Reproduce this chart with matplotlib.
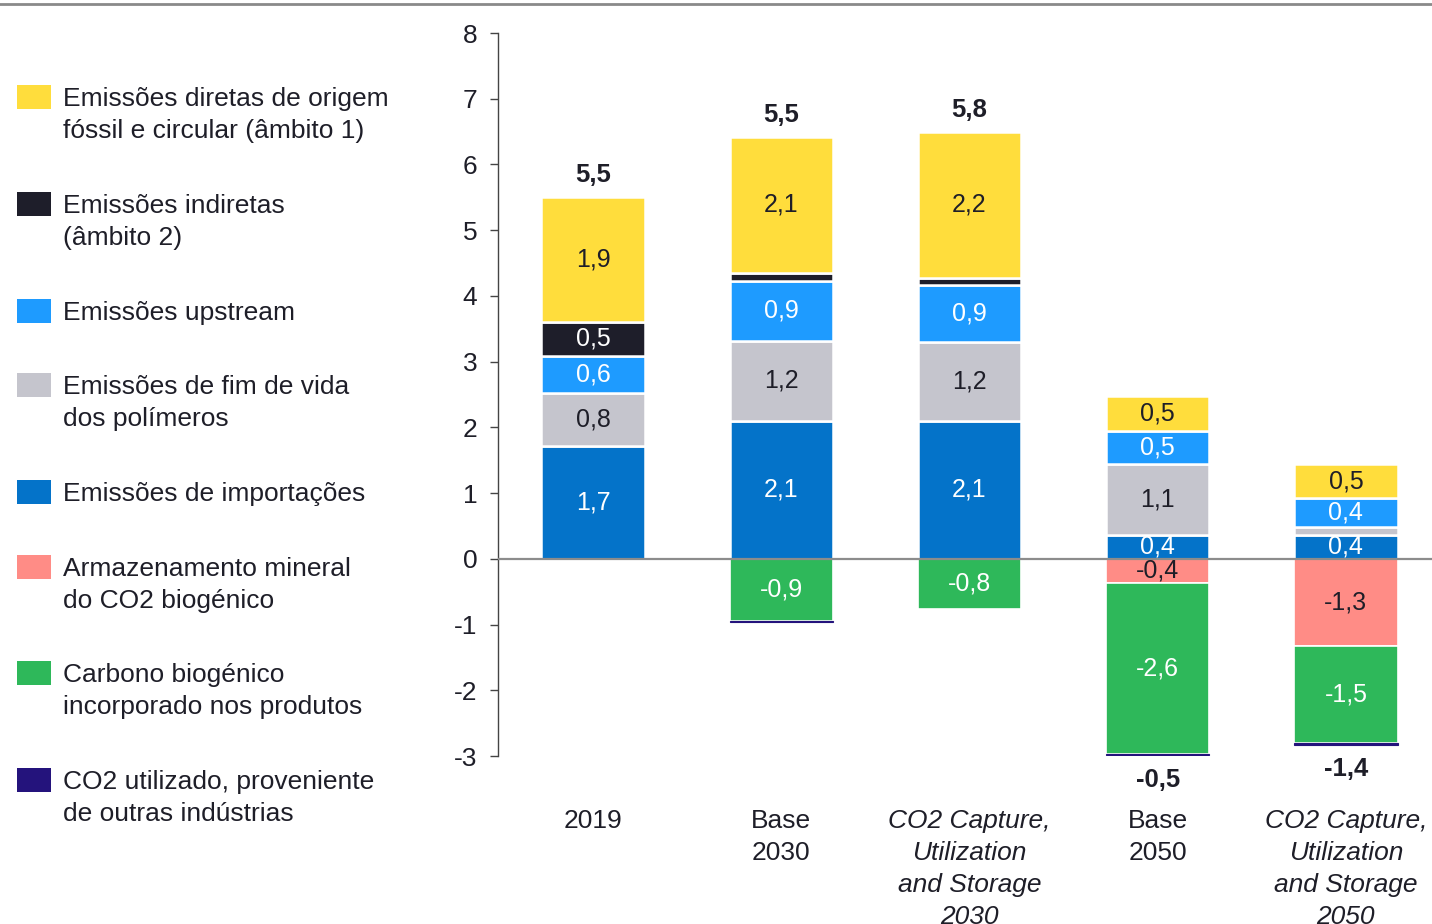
import matplotlib
matplotlib.use("Agg")
import matplotlib.pyplot as plt
from matplotlib.patches import Rectangle
from matplotlib.lines import Line2D
import numpy as np

plt.rcParams['font.family'] = ['Liberation Sans', 'DejaVu Sans']

categories = ["2019", "Base\n2030", "CO2 Capture,\nUtilization\nand Storage\n2030",
              "Base\n2050", "CO2 Capture,\nUtilization\nand Storage\n2050"]
italic_cat = [False, False, True, False, True]

# positive series (bottom to top)
importacoes = [1.72, 2.10, 2.10, 0.36, 0.36]
fim_de_vida = [0.80, 1.22, 1.20, 1.08, 0.12]
upstream    = [0.56, 0.91, 0.87, 0.50, 0.44]
indiretas   = [0.53, 0.12, 0.11, 0.00, 0.00]
diretas     = [1.90, 2.07, 2.22, 0.54, 0.52]
# negative series (top to bottom)
armazenamento = [0.00, 0.00, 0.00, -0.37, -1.32]
carbono_bio   = [0.00, -0.94, -0.76, -2.60, -1.48]
co2_utilizado = [0.00, -0.02, 0.00, -0.015, -0.03]

totals = ["5,5", "5,5", "5,8", "-0,5", "-1,4"]

legend_labels = [
    "Emissões diretas de origem\nfóssil e circular (âmbito 1)",
    "Emissões indiretas\n(âmbito 2)",
    "Emissões upstream",
    "Emissões de fim de vida\ndos polímeros",
    "Emissões de importações",
    "Armazenamento mineral\ndo CO2 biogénico",
    "Carbono biogénico\nincorporado nos produtos",
    "CO2 utilizado, proveniente\nde outras indústrias",
]

C_DIR = "#FFDD3C"
C_IND = "#1E1E2A"
C_UP = "#1E9BFF"
C_FIM = "#C5C5CD"
C_IMP = "#0473C9"
C_ARM = "#FF8C86"
C_BIO = "#2EB85A"
C_UTL = "#24137C"
TXT = "#1E1E28"

W, H = 1432, 924
fig = plt.figure(figsize=(W / 100, H / 100), dpi=100)
ax = fig.add_axes([498 / W, (H - 756) / H, (W - 498) / W, (756 - 33) / H])

x = np.arange(len(categories))
bw = 0.55

pos_series = [(importacoes, C_IMP, "white"), (fim_de_vida, C_FIM, TXT),
              (upstream, C_UP, "white"), (indiretas, C_IND, "white"),
              (diretas, C_DIR, TXT)]
neg_series = [(armazenamento, C_ARM, TXT), (carbono_bio, C_BIO, "white"),
              (co2_utilizado, C_UTL, "white")]

def fmt(v):
    return f"{v:.1f}".replace(".", ",")

def draw(series, lw):
    bottom = np.zeros(len(x))
    for vals, col, tcol in series:
        vals = np.array(vals)
        nz = vals != 0
        thin = col == C_UTL
        ax.bar(x[nz], vals[nz], bw, bottom=bottom[nz], color=col,
               edgecolor=col if thin else "white", linewidth=0.8 if thin else lw,
               zorder=3 if thin else 2)
        for i, v in enumerate(vals):
            if abs(v) >= 0.3:
                ax.text(x[i], bottom[i] + v / 2, fmt(v), ha="center", va="center",
                        fontsize=18, color=tcol, zorder=4)
        bottom = bottom + vals
    return bottom

pos_top = draw(pos_series, 1.8)
neg_bot = draw(neg_series, 1.2)

for i, t in enumerate(totals):
    if t.startswith("-"):
        ax.annotate(t, (x[i], neg_bot[i]), xytext=(0, -9), textcoords="offset points",
                    ha="center", va="top", fontsize=18.5, fontweight="bold", color=TXT)
    else:
        ax.annotate(t, (x[i], pos_top[i]), xytext=(0, 7), textcoords="offset points",
                    ha="center", va="bottom", fontsize=18.5, fontweight="bold", color=TXT)

ax.axhline(0, color="#8C8C8C", linewidth=1.6, zorder=3)

ax.set_ylim(-3, 8)
ax.set_xlim(-0.505, 4 + (W - 1346) / 188)
ax.set_yticks(range(-3, 9))
ax.set_yticklabels([str(v) for v in range(-3, 9)])
ax.tick_params(axis="y", labelsize=19, colors="#444444", labelcolor=TXT, length=6, width=1, pad=9)
ax.set_xticks(x)
ax.set_xticklabels(categories)
for lbl, it in zip(ax.get_xticklabels(), italic_cat):
    lbl.set_fontstyle("italic" if it else "normal")
    lbl.set_fontsize(19)
    lbl.set_color(TXT)
    lbl.set_linespacing(1.42)
ax.tick_params(axis="x", length=0, pad=38)
for s in ["top", "right", "bottom"]:
    ax.spines[s].set_visible(False)
ax.spines["left"].set_color("#444444")
ax.spines["left"].set_linewidth(1)

# top decorative line
fig.add_artist(Line2D([0, 1], [1 - 4 / H, 1 - 4 / H], color="#8A8A8A", linewidth=2, transform=fig.transFigure))

# legend
leg_cols = [C_DIR, C_IND, C_UP, C_FIM, C_IMP, C_ARM, C_BIO, C_UTL]
sq_centers = [97, 204, 311, 385, 492, 567, 673, 780]
for lab, col, yc in zip(legend_labels, leg_cols, sq_centers):
    fig.add_artist(Rectangle((17 / W, 1 - (yc + 12) / H), 34 / W, 24 / H,
                             facecolor=col, edgecolor="none", transform=fig.transFigure))
    for k, line in enumerate(lab.split("\n")):
        fig.text(63 / W, 1 - (yc + 2 + 32 * k) / H, line, ha="left", va="center",
                 fontsize=19, color=TXT)

fig.savefig("out.png", dpi=100)
